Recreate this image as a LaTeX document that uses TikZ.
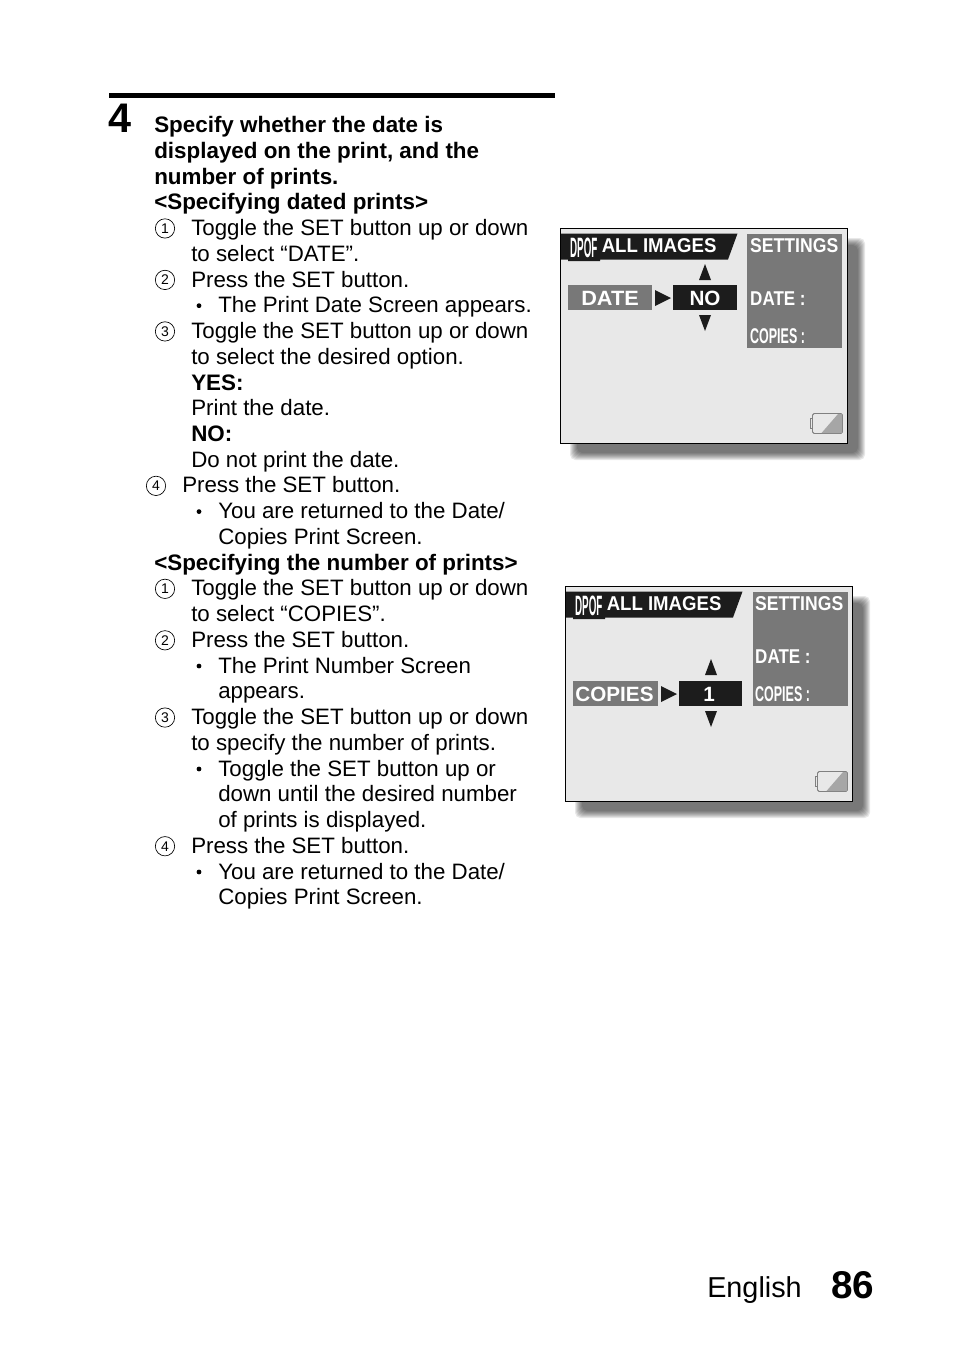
\documentclass[tikz,border=0pt]{standalone}
\usepackage{fontspec}
\setmainfont{Liberation Sans}
\definecolor{lcdbg}{gray}{0.91}
\definecolor{lcdgray}{gray}{0.47}
\definecolor{lcdblack}{gray}{0.11}
\tikzset{
    txt/.style={anchor=base west,inner sep=0pt,font=\fontsize{16.72pt}{21pt}\selectfont},
    txtb/.style={txt,font=\fontsize{16.8pt}{21pt}\selectfont\bfseries},
    num/.style={draw,circle,line width=0.5pt,minimum size=14.5pt,inner sep=0pt,font=\fontsize{10.5pt}{10pt}\selectfont},
    dot/.style={circle,fill=black,minimum size=3.6pt,inner sep=0pt},
    lcdtxt/.style={anchor=base west,inner sep=0pt,text=white,font=\fontsize{15pt}{18pt}\selectfont\bfseries},
    lcdtall/.style={lcdtxt,xscale=0.585,font=\fontsize{16pt}{18pt}\selectfont\bfseries},
    tri/.style={fill=lcdblack,draw=none},
}
\newcommand{\screenbase}[1]{
    %% shadow
    \foreach \i in {0,...,7} {
        \fill[black,opacity=0.09,rounded corners=4pt] ({570+\i},{238+\i}) rectangle ({865-\i},{460-\i});
    }
    \draw[line width=0.9pt,fill=lcdbg] (560.5,228.5) rectangle (847.5,443.5);
    %% banner
    \fill[lcdblack] (561,233.5) -- (737.5,233.5) -- (728,259.5) -- (600,259.5) -- (600,261) -- (568,261) -- (568,259.5) -- (561,259.5) -- cycle;
    \node[lcdtall,xscale=0.6,font=\fontsize{21pt}{21pt}\selectfont\bfseries] (dpof) at (570,257) {DPOF};
    \node[lcdtxt,xscale=0.93] (all) at (601.5,252.5) {ALL IMAGES};
    %% settings box
    \fill[lcdgray] ({747+#1},234) rectangle ({842+#1},348);
    \node[lcdtxt,xscale=0.88] (settings) at (750,252.5) {SETTINGS};
    \node[lcdtxt,xscale=0.85] (date) at (750,305) {DATE :};
    \node[lcdtall] (copies) at (750,343) {COPIES :};
    %% battery
    \draw[gray,line width=0.7pt,fill=lcdbg,rounded corners=1.2pt] (812.5,413.5) rectangle (842.5,433.5);
    \fill[gray!70] (821.5,433) -- (838,414) -- (841,414) -- (842,415) -- (842,432) -- (841,433) -- cycle;
    \draw[gray,line width=0.7pt,fill=lcdbg] (810,418.5) rectangle (812.5,428.5);
}
\begin{document}
\begin{tikzpicture}[x=0.75pt,y=-0.75pt]
    \useasboundingbox (0,0) rectangle (954,1350);
    %% heading
    \fill[black] (109,93) rectangle (555,98);
    \node[txtb,font=\fontsize{31pt}{32pt}\selectfont\bfseries] (step4) at (108,132) {4};
    %% text lines
    \foreach \n/\xx/\stl/\t in {
        0/154/txtb/{Specify whether the date is},
        1/154/txtb/{displayed on the print, and the},
        2/154/txtb/{number of prints.},
        3/154/txtb/{<Specifying dated prints>},
        4/191/txt/{Toggle the SET button up or down},
        5/191/txt/{to select “DATE”.},
        6/191/txt/{Press the SET button.},
        7/218/txt/{The Print Date Screen appears.},
        8/191/txt/{Toggle the SET button up or down},
        9/191/txt/{to select the desired option.},
        10/191/txtb/{YES:},
        11/191/txt/{Print the date.},
        12/191/txtb/{NO:},
        13/191/txt/{Do not print the date.},
        14/182/txt/{Press the SET button.},
        15/218/txt/{You are returned to the Date/},
        16/218/txt/{Copies Print Screen.},
        17/154/txtb/{<Specifying the number of prints>},
        18/191/txt/{Toggle the SET button up or down},
        19/191/txt/{to select “COPIES”.},
        20/191/txt/{Press the SET button.},
        21/218/txt/{The Print Number Screen},
        22/218/txt/{appears.},
        23/191/txt/{Toggle the SET button up or down},
        24/191/txt/{to specify the number of prints.},
        25/218/txt/{Toggle the SET button up or},
        26/218/txt/{down until the desired number},
        27/218/txt/{of prints is displayed.},
        28/191/txt/{Press the SET button.},
        29/218/txt/{You are returned to the Date/},
        30/218/txt/{Copies Print Screen.}} {
        \node[\stl] (line\n) at (\xx,{132.6+25.74*\n}) {\t};
    }
    %% numbers
    \foreach \n/\xx/\t in {4/165/1,6/165/2,8/165/3,14/156/4,18/165/1,20/165/2,23/165/3,28/165/4} {
        \node[num] (num\n) at (\xx,{133+25.74*\n-7.5}) {\t};
    }
    %% bullets
    \foreach \n in {7,15,21,25,29} {
        \node[dot] (dot\n) at (199,{133+25.74*\n-7.5}) {};
    }
    %% screen one
    \begin{scope}[name prefix=one-]
        \screenbase{0}
        \fill[lcdgray] (568,285) rectangle (652,310);
        \fill[lcdblack] (673,285) rectangle (737,310);
        \node[lcdtxt,xscale=1.05,font=\fontsize{15.5pt}{18pt}\selectfont\bfseries,anchor=base] (item) at (610,305) {DATE};
        \node[lcdtxt,font=\fontsize{15.5pt}{18pt}\selectfont\bfseries,anchor=base] (value) at (705,305) {NO};
        \fill[tri] (655,290) -- (671,298) -- (655,306) -- cycle;
        \fill[tri] (699,280) -- (705,264) -- (711,280) -- cycle;
        \fill[tri] (699,315) -- (705,331) -- (711,315) -- cycle;
    \end{scope}
    %% screen two
    \begin{scope}[shift={(5,358)},name prefix=two-]
        \screenbase{1}
        \fill[lcdgray] (568,323) rectangle (653,348);
        \fill[lcdblack] (674,323) rectangle (737,348);
        \node[lcdtxt,font=\fontsize{15.5pt}{18pt}\selectfont\bfseries,anchor=base] (item) at (609.5,343) {COPIES};
        \node[lcdtxt,font=\fontsize{15.5pt}{18pt}\selectfont\bfseries,anchor=base] (value) at (704,343) {1};
        \fill[tri] (656,328) -- (672,336) -- (656,344) -- cycle;
        \fill[tri] (700,317) -- (706,301) -- (712,317) -- cycle;
        \fill[tri] (700,353) -- (706,369) -- (712,353) -- cycle;
    \end{scope}
    %% page footer
    \node[txt,font=\fontsize{21.6pt}{24pt}\selectfont] (lang) at (707,1297) {English};
    \node[txtb,font=\fontsize{29pt}{30pt}\selectfont\bfseries] (page) at (831,1298) {86};
\end{tikzpicture}
\end{document}
